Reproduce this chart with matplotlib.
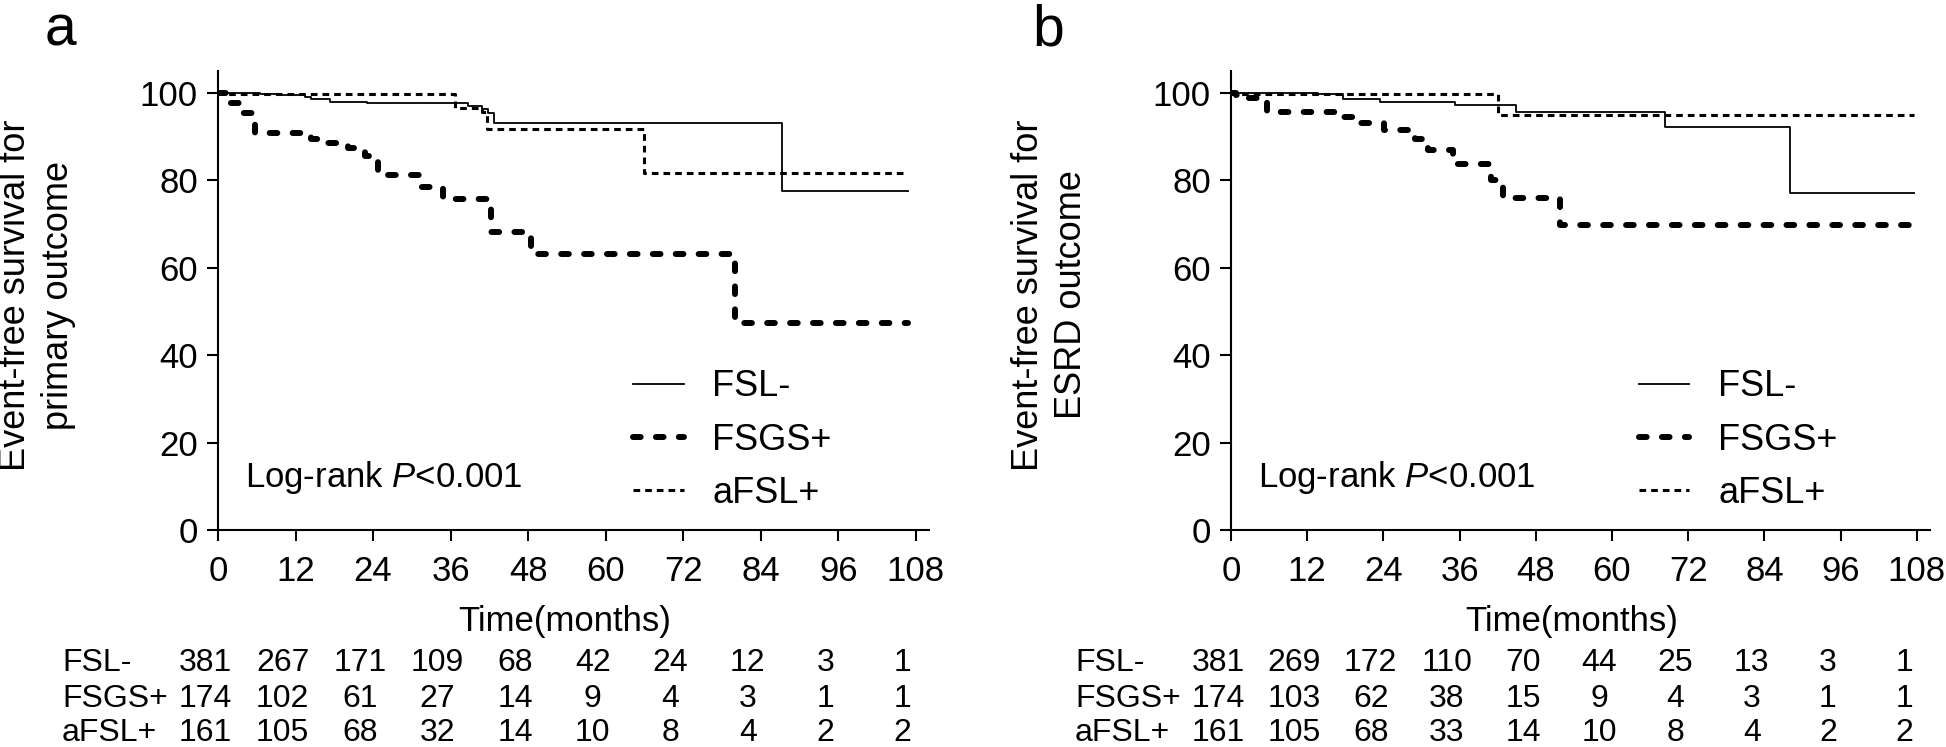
import matplotlib
matplotlib.use("Agg")
import matplotlib.pyplot as plt
import matplotlib.transforms as mtransforms
from matplotlib import font_manager as fm

plt.rcParams['font.family'] = ['Liberation Sans', 'DejaVu Sans']
plt.rcParams['mathtext.fontset'] = 'custom'
plt.rcParams['mathtext.rm'] = 'Liberation Sans'
plt.rcParams['mathtext.it'] = 'Liberation Sans:italic'
plt.rcParams['lines.scale_dashes'] = False

# ---------------- data ----------------
groups = ["FSL-", "FSGS+", "aFSL+"]
time_ticks = [0, 12, 24, 36, 48, 60, 72, 84, 96, 108]

# Panel a: primary outcome (step times in months, survival %)
a_fsl_t = [0, 6.5, 9.8, 13.4, 14.4, 17.4, 23.1, 38.7, 40.8, 41.8, 42.7, 87.3, 106.8]
a_fsl_s = [100, 99.7, 99.4, 99.1, 98.5, 97.9, 97.6, 96.9, 96.2, 95.4, 93.0, 77.5, 77.5]
a_fsgs_t = [0, 1.5, 3.4, 5.7, 14.4, 16.8, 20.1, 22.7, 24.8, 31.5, 34.8, 42.3, 48.5, 80.0, 106.8]
a_fsgs_s = [100, 97.6, 95.3, 90.7, 89.5, 88.4, 87.3, 85.5, 81.1, 78.5, 75.8, 68.2, 63.0, 47.3, 47.3]
a_afsl_t = [0, 0.8, 36.7, 40.8, 41.7, 65.9, 106.8]
a_afsl_s = [100, 99.7, 96.6, 95.6, 91.6, 81.6, 81.6]

# Panel b: ESRD outcome
b_fsl_t = [0, 13.7, 17.6, 23.5, 35.3, 44.9, 68.4, 88.0, 107.6]
b_fsl_s = [100, 99.8, 98.5, 97.9, 97.2, 95.6, 92.2, 77.0, 77.0]
b_fsgs_t = [0, 0.8, 2.6, 5.7, 17.4, 20.5, 24.1, 29.0, 31.1, 35.0, 41.0, 42.8, 51.8, 107.0]
b_fsgs_s = [100, 99.5, 98.7, 95.6, 94.5, 93.0, 91.5, 89.5, 86.9, 83.8, 80.0, 76.0, 69.7, 69.7]
b_afsl_t = [0, 0.8, 42.0, 107.6]
b_afsl_s = [100, 99.7, 95.0, 95.0]

# Numbers at risk
a_risk_fsl = [381, 267, 171, 109, 68, 42, 24, 12, 3, 1]
a_risk_fsgs = [174, 102, 61, 27, 14, 9, 4, 3, 1, 1]
a_risk_afsl = [161, 105, 68, 32, 14, 10, 8, 4, 2, 2]
b_risk_fsl = [381, 269, 172, 110, 70, 44, 25, 13, 3, 1]
b_risk_fsgs = [174, 103, 62, 38, 15, 9, 4, 3, 1, 1]
b_risk_afsl = [161, 105, 68, 33, 14, 10, 8, 4, 2, 2]

panels = [
    dict(letter="a", ylabel="Event-free survival for\nprimary outcome",
         curves=[(a_fsl_t, a_fsl_s), (a_fsgs_t, a_fsgs_s), (a_afsl_t, a_afsl_s)],
         risk=[a_risk_fsl, a_risk_fsgs, a_risk_afsl]),
    dict(letter="b", ylabel="Event-free survival for\nESRD outcome",
         curves=[(b_fsl_t, b_fsl_s), (b_fsgs_t, b_fsgs_s), (b_afsl_t, b_afsl_s)],
         risk=[b_risk_fsl, b_risk_fsgs, b_risk_afsl]),
]

styles = [
    dict(color="black", lw=1.3, linestyle="-"),
    dict(color="black", lw=4.3, dashes=(5.5, 11), dash_capstyle="round", solid_capstyle="round"),
    dict(color="black", lw=2.2, dashes=(4.8, 3.6), dash_capstyle="butt"),
]

W, H = 1946, 747
fig = plt.figure(figsize=(W / 100, H / 100), dpi=100)

axes_px = [(218, 710.6), (1231, 698.5)]  # left px, width px
bottom_px, height_px = 530, 459.2
letter_px = [45, 1032]
row_base_px = [671, 707, 741]
YMAX = 105

FS = 25
TFS = 23
for p, (left, width), lx in zip(panels, axes_px, letter_px):
    ax = fig.add_axes([left / W, (H - bottom_px) / H, width / W, height_px / H])
    for (t, s), st, g in zip(p["curves"], styles, groups):
        ax.step(t, s, where="post", label=g, **st)
    ax.set_xlim(0, 110)
    ax.set_ylim(0, YMAX)
    ax.set_xticks(time_ticks)
    ax.set_yticks([0, 20, 40, 60, 80, 100])
    for side in ("top", "right"):
        ax.spines[side].set_visible(False)
    for side in ("left", "bottom"):
        ax.spines[side].set_linewidth(1.5)
    ax.tick_params(axis="both", direction="out", length=8, width=1.5, labelsize=FS)
    ax.tick_params(axis="y", pad=6.5)
    ax.tick_params(axis="x", pad=10)
    ax.set_ylabel(p["ylabel"], fontsize=FS + 1, va="center", ha="center", linespacing=1.3)
    ax.yaxis.set_label_coords(-181 / width, (bottom_px - 295) / height_px)
    ax.set_xlabel("Time(months)", fontsize=FS, va="center")
    ax.xaxis.set_label_coords(0.488, (bottom_px - 622) / height_px)

    ax.legend(loc="upper left", bbox_to_anchor=(0.584, 36.7 / YMAX), frameon=False,
              fontsize=FS + 1, handlelength=1.4, handletextpad=0.8,
              labelspacing=0.5, borderpad=0, borderaxespad=0)

    ax.text(4.2, 11.9, r"Log-rank $\mathit{P}$<0.001", fontsize=FS, va="center", ha="left")

    fig.text(lx / W, 1 - 45 / H, p["letter"], fontsize=41, ha="left", va="baseline")

    # numbers at risk
    trans = mtransforms.blended_transform_factory(ax.transData, fig.transFigure)
    trans_lab = mtransforms.blended_transform_factory(ax.transAxes, fig.transFigure)
    for g, row, ypx in zip(groups, p["risk"], row_base_px):
        yf = 1 - ypx / H
        ax.text(-156 / width, yf, g, transform=trans_lab, fontsize=TFS,
                ha="left", va="baseline", clip_on=False)
        for tt, n in zip(time_ticks, row):
            ax.text(tt - 2, yf, str(n), transform=trans, fontsize=TFS,
                    ha="center", va="baseline", clip_on=False)

fig.savefig("out.png", dpi=100)
